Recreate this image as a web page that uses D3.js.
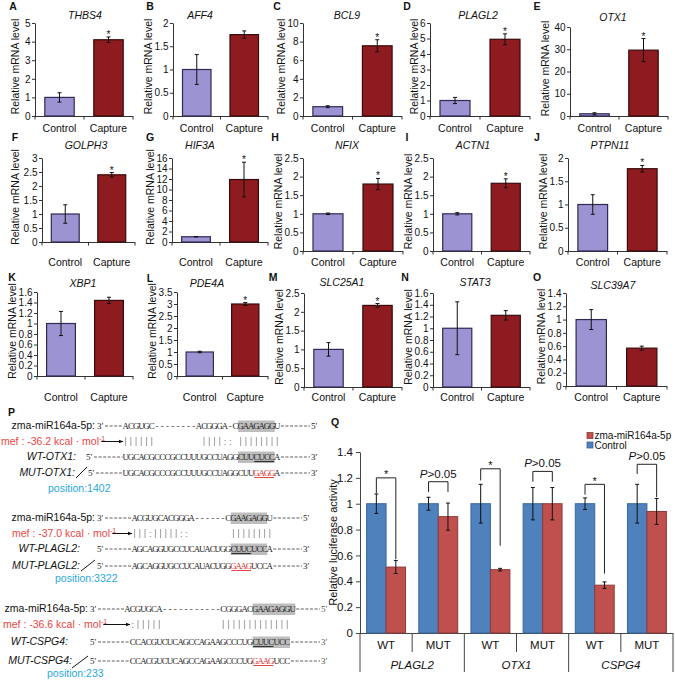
<!DOCTYPE html>
<html><head><meta charset="utf-8">
<script src="https://cdn.jsdelivr.net/npm/d3@7"></script>
<style>
body{margin:0;background:#fff;}
svg{display:block;}
</style></head><body>
<svg id="fig" width="675" height="681"></svg>
<script>
// ================= DATA =================
// Panels A–O : relative mRNA levels
const panelLetters = ["A","B","C","D","E","F","G","H","I","J","K","L","M","N","O"];
const genes = ["THBS4","AFF4","BCL9","PLAGL2","OTX1","GOLPH3","HIF3A","NFIX","ACTN1","PTPN11","XBP1","PDE4A","SLC25A1","STAT3","SLC39A7"];
const groups = ["Control","Capture"];
const controlMean = [1,1,1,1,1,1,1,1,1,1,1,1,1,1,1];
const controlErr  = [0.25,0.32,0.1,0.2,0.45,0.33,0.05,0.02,0.03,0.21,0.23,0.03,0.18,0.45,0.15];
const captureMean = [4.1,1.75,7.55,4.95,29.6,2.4,11.9,1.8,1.82,1.77,1.44,3.0,2.17,1.22,0.57];
const captureErr  = [0.15,0.08,0.65,0.35,5.2,0.08,3.3,0.15,0.12,0.07,0.06,0.06,0.05,0.08,0.03];
const significant = [1,0,1,1,1,1,1,1,1,1,0,1,1,0,0];
const yMax  = [5,2,10,6,40,3,16,2.5,2.5,2,1.6,3.5,2.5,1.6,1.4];
const yStep = [1,0.5,2,1,10,0.5,2,0.5,0.5,0.5,0.2,0.5,0.5,0.2,0.2];

// Panel Q : luciferase assay
const qSub = ["WT","MUT","WT","MUT","WT","MUT"];
const qGenes = ["PLAGL2","OTX1","CSPG4"];
const qSeries = ["Control","zma-miR164a-5p"];
const qControlMean = [1,1,1,1,1,1];
const qControlErr  = [0.075,0.05,0.15,0.125,0.045,0.15];
const qMirMean = [0.51,0.90,0.49,1.0,0.37,0.94];
const qMirErr  = [0.05,0.105,0.01,0.125,0.025,0.1];
const qTicks = [0,0.2,0.4,0.6,0.8,1,1.2,1.4];
const qSigLabel = ["*","P>0.05","*","P>0.05","*","P>0.05"];
const qBracketTop   = [1.2,1.17,1.27,1.25,1.15,1.305];
const qBracketLeft  = [1.08,1.09,1.18,1.17,1.07,1.23];
const qBracketRight = [0.57,1.09,0.675,1.17,0.46,1.05];

// Panel P : sequence alignments
const pMirLabel = "zma-miR164a-5p:";
const pTargets = ["OTX1","PLAGL2","CSPG4"];
const pMef = ["-36.2","-37.0","-36.6"];
const pPosition = ["1402","3322","233"];
const pMir = ["ACGUGC--------ACGGGA-CGAAGAGGU","ACGUGCACGGGA------CGAAGAGGU","ACGUGCA-----------CGGGACGAAGAGGU"];
const pMirOffset = [0,0,-1];
const pPairs = ["||||||         ||||:: ||||||||","|||:|||||::        ||||||||",":|||||           |||||||||||||"];
const pWT  = ["UGCACGCCCGCCUUUGCCUAGGCUUCUCCA","AGCAGGUGCCUCAUACUGGCUUCUCCA","CCACGUCUCAGCCAGAAGCCCUGCUUCUCC"];
const pMUT = ["UGCACGCCCGCCUUUGCCUAGGCUUGAGGA","AGCAGGUGCCUCAUACUGGGAAGUCCA","CCACGUCUCAGCCAGAAGCCCUGGAAGUCC"];
const pMirHl = [[22,28],[19,25],[23,30]];
const pWtHl  = [[22,28],[19,25],[23,29]];
const pWtUl  = [[25,28],[19,22],[23,26]];
const pMutRed= [[25,28],[19,22],[23,26]];

// ================= LAYOUT =================
const FONT = '"Liberation Sans", Arial, Helvetica, sans-serif';
const SERIF = '"Liberation Serif", "Times New Roman", serif';
const layout = [
 {lx:13,ly:6,ax:35,xEnd:133,yTop:23,y0:116,tx:85,ty:15,xly:128,ylx:15},
 {lx:150,ly:6,ax:173,xEnd:268,yTop:23,y0:116,tx:200,ty:15,xly:128,ylx:154},
 {lx:277,ly:6,ax:303,xEnd:402,yTop:23,y0:116,tx:347,ty:15,xly:128,ylx:285},
 {lx:407,ly:6,ax:430,xEnd:530,yTop:23,y0:116,tx:478,ty:15,xly:128,ylx:415},
 {lx:537,ly:6,ax:570,xEnd:668,yTop:27,y0:116,tx:613,ty:17,xly:128,ylx:545},
 {lx:15,ly:137,ax:42,xEnd:135,yTop:158,y0:242,tx:86,ty:145,xly:262,ylx:15},
 {lx:150,ly:137,ax:172,xEnd:268,yTop:158,y0:242,tx:200,ty:145,xly:262,ylx:153},
 {lx:275,ly:137,ax:303,xEnd:403,yTop:158,y0:251,tx:347,ty:145,xly:262,ylx:282},
 {lx:407,ly:137,ax:433,xEnd:530,yTop:158,y0:251,tx:473,ty:145,xly:262,ylx:413},
 {lx:537,ly:137,ax:568,xEnd:667,yTop:158,y0:251,tx:610,ty:145,xly:262,ylx:545},
 {lx:12,ly:277,ax:37,xEnd:133,yTop:292,y0:376,tx:83,ty:283,xly:397,ylx:13},
 {lx:150,ly:278,ax:177,xEnd:268,yTop:292,y0:376,tx:207,ty:283,xly:397,ylx:152},
 {lx:273,ly:277,ax:304,xEnd:402,yTop:293,y0:387,tx:342,ty:282,xly:397,ylx:280},
 {lx:405,ly:277,ax:433,xEnd:530,yTop:293,y0:387,tx:475,ty:282,xly:397,ylx:412},
 {lx:537,ly:277,ax:566,xEnd:667,yTop:293,y0:386,tx:613,ty:285,xly:397,ylx:543}
];
const ctlFill = "#9c94d2", ctlStroke = "#2f2a55";
const capFill = "#8d1b1f", capStroke = "#3a0b0c";

const svg = d3.select("#fig").attr("font-family", FONT);

// ================= PANELS A–O =================
genes.forEach((gene, i) => {
  const L = layout[i];
  const g = svg.append("g");
  const y = d3.scaleLinear().domain([0, yMax[i]]).range([L.y0, L.yTop]);
  const x = d3.scaleBand().domain(groups).range([L.ax, L.xEnd]).paddingInner(0.4).paddingOuter(0.2);
  const ticks = d3.range(0, yMax[i] + yStep[i] / 2, yStep[i]).map(v => +v.toFixed(3));

  const ya = g.append("g").attr("transform", `translate(${L.ax},0)`)
    .call(d3.axisLeft(y).tickValues(ticks).tickSize(3).tickSizeOuter(0).tickPadding(1.5).tickFormat(d3.format("~g")))
    .call(s => s.selectAll("text").attr("font-size", 10).attr("font-family", FONT).attr("fill", "#111"))
    .call(s => s.selectAll("line,path").attr("stroke", "#333"));

  // x axis
  const [r0, r1] = x.range();
  g.append("line").attr("x1", r0).attr("x2", r1).attr("y1", L.y0 + 0.5).attr("y2", L.y0 + 0.5).attr("stroke", "#333");
  g.selectAll("line.xt").data([r0, (r0 + r1) / 2, r1]).join("line").attr("class", "xt")
    .attr("x1", d => d).attr("x2", d => d).attr("y1", L.y0).attr("y2", L.y0 + 3.5).attr("stroke", "#333");

  const means = [controlMean[i], captureMean[i]];
  const errs = [controlErr[i], captureErr[i]];
  g.selectAll("rect.bar").data(groups).join("rect").attr("class", "bar")
    .attr("x", d => x(d)).attr("width", x.bandwidth())
    .attr("y", (d, j) => y(means[j])).attr("height", (d, j) => L.y0 - y(means[j]))
    .attr("fill", (d, j) => j ? capFill : ctlFill)
    .attr("stroke", (d, j) => j ? capStroke : ctlStroke).attr("stroke-width", 1.2);

  // error bars
  groups.forEach((d, j) => {
    const cx = x(d) + x.bandwidth() / 2;
    g.append("line").attr("x1", cx).attr("x2", cx).attr("y1", y(means[j] + errs[j])).attr("y2", y(means[j] - errs[j])).attr("stroke", "#111");
    [means[j] + errs[j], means[j] - errs[j]].forEach(v =>
      g.append("line").attr("x1", cx - 2).attr("x2", cx + 2).attr("y1", y(v)).attr("y2", y(v)).attr("stroke", "#111"));
    g.append("text").attr("x", cx).attr("y", L.xly + 4).attr("text-anchor", "middle")
      .attr("font-size", 10.5).attr("fill", "#111").text(d);
  });
  if (significant[i]) {
    const cx = x("Capture") + x.bandwidth() / 2;
    g.append("text").attr("x", cx).attr("y", y(captureMean[i] + captureErr[i]) + 1).attr("text-anchor", "middle")
      .attr("font-size", 10).attr("fill", "#111").text("*");
  }
  // title
  g.append("text").attr("x", L.tx).attr("y", L.ty + 4).attr("text-anchor", "middle")
    .attr("font-size", 10.5).attr("font-style", "italic").attr("fill", "#111").text(gene);
  // y label, kept clear of the tick labels
  let minX = Infinity;
  ya.selectAll("text").each(function () { const bb = this.getBBox(); minX = Math.min(minX, L.ax + bb.x); });
  const ylx = Math.min(L.ylx, minX - 6);
  g.append("text").attr("transform", `translate(${ylx},${(L.yTop + L.y0) / 2 - 3}) rotate(-90)`)
    .attr("text-anchor", "middle").attr("dy", "0.35em").attr("font-size", 10.5).attr("fill", "#111").text("Relative mRNA level");
  // letter
  svg.append("text").attr("x", L.lx).attr("y", L.ly + 4).attr("text-anchor", "middle")
    .attr("font-size", 10.5).attr("font-weight", "bold").attr("fill", "#111").text(panelLetters[i]);
});

// ================= PANEL P =================
const pLayout = [
  {y:[429,445,460,476,492], x0:123, pitch:5.23, labelEnd:95, primeX:97, mefX:1, wtEnd:76, mutEnd:75, wtPrimeX:86, mutPrimeX:88, slash:[76,478,87,467], posX:48, endX:311},
  {y:[521,537,552,569,582], x0:132, pitch:5.2, labelEnd:95, primeX:97, mefX:12, wtEnd:80, mutEnd:80, wtPrimeX:97, mutPrimeX:97, slash:[81,571,95,560], posX:55, endX:303},
  {y:[612,628,645,664,677], x0:130, pitch:5.33, labelEnd:88, primeX:90, mefX:3, wtEnd:68, mutEnd:72, wtPrimeX:90, mutPrimeX:90, slash:[72,668,88,656], posX:47, endX:321}
];
const P = svg.append("g");
P.append("text").attr("x", 8).attr("y", 416).attr("font-size", 10.5).attr("font-weight", "bold").attr("fill", "#111").text("P");
const defs = svg.append("defs");
defs.append("marker").attr("id", "arr").attr("viewBox", "0 0 10 10").attr("refX", 9).attr("refY", 5)
  .attr("markerWidth", 5).attr("markerHeight", 5).attr("orient", "auto")
  .append("path").attr("d", "M0,1 L10,5 L0,9 Z").attr("fill", "#111");

pTargets.forEach((t, b) => {
  const L = pLayout[b];
  const [y1, y2, y3, y4, y5] = L.y;
  const cx = c => L.x0 + (c + 0.5) * L.pitch;
  const colX = c => L.x0 + c * L.pitch;
  const hl = (r, yy) => P.append("rect").attr("x", colX(r[0])).attr("width", (r[1] - r[0] + 1) * L.pitch)
    .attr("y", yy - 8.5).attr("height", 11.5).attr("fill", "#bdbdbd");
  hl(pMirHl[b], y1); hl(pWtHl[b], y3);
  const dash = (a, c, yy) => P.append("line").attr("x1", a).attr("x2", c).attr("y1", yy - 3).attr("y2", yy - 3)
    .attr("stroke", "#333").attr("stroke-width", 0.8).attr("stroke-dasharray", "3,1.6");
  const seqText = (str, off, yy, redRange) => {
    P.append("g").selectAll("text").data(str.split("").map((c, k) => ({ c, col: k + off }))).join("text")
      .attr("x", d => cx(d.col)).attr("y", yy).attr("text-anchor", "middle")
      .attr("font-family", SERIF).attr("font-size", 8.8)
      .attr("fill", d => redRange && d.col >= redRange[0] && d.col <= redRange[1] ? "#e0312f" : "#222")
      .text(d => d.c);
  };
  const lastCol = c => colX(c + 1);
  const prime = (x, yy, s, fill) => P.append("text").attr("x", x).attr("y", yy).attr("font-family", SERIF)
    .attr("font-size", 9).attr("fill", fill || "#222").text(s);

  // line 1 : miRNA
  P.append("text").attr("x", L.labelEnd).attr("y", y1).attr("text-anchor", "end").attr("font-size", 10.5).attr("fill", "#111").text(pMirLabel);
  prime(L.primeX, y1, "3′");
  const mirStart = colX(pMirOffset[b]);
  dash(L.primeX + 8, mirStart - 0.5, y1);
  seqText(pMir[b], pMirOffset[b], y1);
  const mirEnd = lastCol(pMir[b].length - 1 + pMirOffset[b]);
  dash(mirEnd + 1, L.endX - 1, y1);
  prime(L.endX, y1, "5′", b === 2 ? "#555" : "#222");

  // line 2 : mef + pairing
  const mef = P.append("text").attr("x", L.mefX).attr("y", y2).attr("font-size", 10.5).attr("fill", "#e8463f");
  mef.append("tspan").text("mef : " + pMef[b] + " kcal · mol");
  mef.append("tspan").attr("dy", -4).attr("font-size", 7).text("-1");
  const mefEnd = L.mefX + mef.node().getComputedTextLength();
  P.append("line").attr("x1", mefEnd - 4).attr("x2", L.x0).attr("y1", y2 - 3.5).attr("y2", y2 - 3.5)
    .attr("stroke", "#111").attr("stroke-width", 1).attr("marker-end", "url(#arr)");
  pPairs[b].split("").forEach((c, k) => {
    if (c === "|") P.append("line").attr("x1", cx(k)).attr("x2", cx(k)).attr("y1", y2 - 8).attr("y2", y2 + 1).attr("stroke", "#888").attr("stroke-width", 0.8);
    else if (c === ":") P.append("text").attr("x", cx(k)).attr("y", y2).attr("text-anchor", "middle").attr("font-size", 9).attr("fill", "#777").text(":");
  });

  // line 3 : WT
  P.append("text").attr("x", L.wtEnd).attr("y", y3).attr("text-anchor", "end").attr("font-size", 10.5).attr("font-style", "italic").attr("fill", "#111").text("WT-" + t + ":");
  prime(L.wtPrimeX, y3, "5′");
  dash(L.wtPrimeX + 8, L.x0 - 0.5, y3);
  seqText(pWT[b], 0, y3);
  P.append("line").attr("x1", colX(pWtUl[b][0]) + 0.5).attr("x2", colX(pWtUl[b][1] + 1) - 0.5).attr("y1", y3 + 1.5).attr("y2", y3 + 1.5).attr("stroke", "#333").attr("stroke-width", 1.2);
  dash(lastCol(pWT[b].length - 1) + 1, L.endX - 1, y3);
  prime(L.endX, y3, "3′", b === 2 ? "#555" : "#222");

  // line 4 : MUT
  P.append("text").attr("x", L.mutEnd).attr("y", y4).attr("text-anchor", "end").attr("font-size", 10.5).attr("font-style", "italic").attr("fill", "#111").text("MUT-" + t + ":");
  P.append("line").attr("x1", L.slash[0]).attr("y1", L.slash[1]).attr("x2", L.slash[2]).attr("y2", L.slash[3]).attr("stroke", "#111").attr("stroke-width", 1);
  prime(L.mutPrimeX, y4, "5′");
  dash(L.mutPrimeX + 8, L.x0 - 0.5, y4);
  seqText(pMUT[b], 0, y4, pMutRed[b]);
  P.append("line").attr("x1", colX(pMutRed[b][0]) + 0.5).attr("x2", colX(pMutRed[b][1] + 1) - 0.5).attr("y1", y4 + 1.5).attr("y2", y4 + 1.5).attr("stroke", "#e0312f").attr("stroke-width", 0.9);
  dash(lastCol(pMUT[b].length - 1) + 1, L.endX - 1, y4);
  prime(L.endX, y4, "3′", b === 2 ? "#555" : "#222");

  // line 5 : position
  P.append("text").attr("x", L.posX).attr("y", y5).attr("font-size", 10.5).attr("fill", "#2ba7e0").text("position:" + pPosition[b]);
});

// ================= PANEL Q =================
const Q = svg.append("g");
const qx0 = d3.scaleBand().domain(d3.range(qSub.length)).range([360, 673]);
const qx1 = d3.scaleBand().domain(qSeries).range([0, qx0.bandwidth()]).paddingOuter(0.34);
const qy = d3.scaleLinear().domain([0, 1.4]).range([633, 452]);
const qColors = { "Control": ["#4f81bd", "#36679f"], "zma-miR164a-5p": ["#c0504d", "#8e3a38"] };

Q.append("text").attr("x", 335).attr("y", 426).attr("text-anchor", "middle").attr("font-size", 10.5).attr("font-weight", "bold").attr("fill", "#111").text("Q");

Q.append("g").attr("transform", "translate(360,0)")
  .call(d3.axisLeft(qy).tickValues(qTicks).tickSize(4).tickSizeOuter(0).tickPadding(3).tickFormat(d3.format("~g")))
  .call(s => s.selectAll("text").attr("font-size", 11.5).attr("font-family", FONT).attr("fill", "#111"))
  .call(s => s.selectAll("line,path").attr("stroke", "#444"));
Q.append("text").attr("transform", `translate(333,${(qy(0) + qy(1.4)) / 2}) rotate(-90)`).attr("text-anchor", "middle")
  .attr("dy", "0.35em").attr("font-size", 11).attr("fill", "#111").text("Relative luciferase activity");

// category axis
const [q0, q1] = qx0.range();
Q.append("line").attr("x1", q0).attr("x2", q1).attr("y1", qy(0) + 0.5).attr("y2", qy(0) + 0.5).attr("stroke", "#444");
d3.range(qSub.length + 1).forEach(k => {
  const xx = q0 + k * qx0.step();
  Q.append("line").attr("x1", xx).attr("x2", xx).attr("y1", qy(0)).attr("y2", k % 2 === 0 ? 672 : 652).attr("stroke", "#444");
});
qSub.forEach((s, k) => Q.append("text").attr("x", qx0(k) + qx0.bandwidth() / 2).attr("y", 649).attr("text-anchor", "middle")
  .attr("font-size", 11.5).attr("fill", "#111").text(s));
qGenes.forEach((gname, k) => Q.append("text").attr("x", qx0(2 * k) + qx0.step()).attr("y", 669).attr("text-anchor", "middle")
  .attr("font-size", 11.5).attr("font-style", "italic").attr("fill", "#111").text(gname));

// bars
qSub.forEach((s, k) => {
  const vals = { "Control": [qControlMean[k], qControlErr[k]], "zma-miR164a-5p": [qMirMean[k], qMirErr[k]] };
  const bx = d => qx0(k) + qx1(d);
  Q.append("g").selectAll("rect").data(qSeries).join("rect")
    .attr("x", d => bx(d)).attr("width", qx1.bandwidth())
    .attr("y", d => qy(vals[d][0])).attr("height", d => qy(0) - qy(vals[d][0]))
    .attr("fill", d => qColors[d][0]).attr("stroke", d => qColors[d][1]).attr("stroke-width", 1);
  qSeries.forEach(d => {
    const c = bx(d) + qx1.bandwidth() / 2, [m, e] = vals[d];
    Q.append("line").attr("x1", c).attr("x2", c).attr("y1", qy(m + e)).attr("y2", qy(m - e)).attr("stroke", "#111");
    [m + e, m - e].forEach(v => Q.append("line").attr("x1", c - 2).attr("x2", c + 2).attr("y1", qy(v)).attr("y2", qy(v)).attr("stroke", "#111"));
  });
  // bracket
  const lc = bx("Control") + qx1.bandwidth() / 2, rc = bx("zma-miR164a-5p") + qx1.bandwidth() / 2;
  Q.append("path").attr("d", `M${lc},${qy(qBracketLeft[k])}V${qy(qBracketTop[k])}H${rc}V${qy(qBracketRight[k])}`)
    .attr("fill", "none").attr("stroke", "#222").attr("stroke-width", 1);
  const lab = Q.append("text").attr("x", (lc + rc) / 2).attr("text-anchor", "middle").attr("fill", "#111");
  if (qSigLabel[k] === "*") {
    lab.attr("y", qy(qBracketTop[k]) + 0.5).attr("font-size", 11).text("*");
  } else {
    lab.attr("y", qy(qBracketTop[k]) - 4).attr("font-size", 11.5);
    lab.append("tspan").attr("font-style", "italic").text(qSigLabel[k].slice(0, 1));
    lab.append("tspan").text(qSigLabel[k].slice(1));
  }
});

// legend (miRNA first, Control below)
["zma-miR164a-5p", "Control"].forEach((s, k) => {
  Q.append("rect").attr("x", 587).attr("y", 432.5 + k * 9.5).attr("width", 6).attr("height", 6)
    .attr("fill", qColors[s][0]).attr("stroke", qColors[s][1]).attr("stroke-width", 0.8);
  Q.append("text").attr("x", 594.5).attr("y", 439 + k * 9.5).attr("font-size", 10).attr("fill", "#111").text(s);
});
</script>
</body></html>
